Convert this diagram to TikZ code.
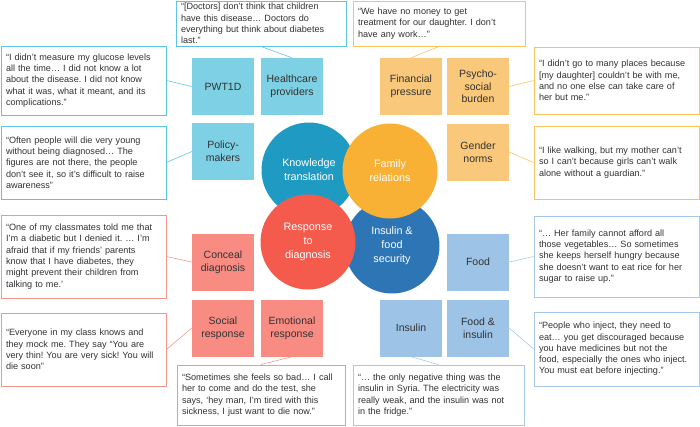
\documentclass[tikz,border=0pt]{standalone}
\usepackage{fontspec}
\setmainfont{Liberation Sans}
\frenchspacing
\definecolor{ktc}{RGB}{31,155,195}
\definecolor{frc}{RGB}{248,177,52}
\definecolor{rdc}{RGB}{244,91,77}
\definecolor{ifc}{RGB}{46,117,182}
\definecolor{tealbox}{RGB}{126,208,228}
\definecolor{orangebox}{RGB}{249,200,122}
\definecolor{salmonbox}{RGB}{248,140,130}
\definecolor{bluebox}{RGB}{157,195,230}
\definecolor{tealline}{RGB}{92,196,222}
\definecolor{orangeline}{RGB}{250,196,92}
\definecolor{salmonline}{RGB}{245,150,140}
\definecolor{blueline}{RGB}{168,200,234}
\definecolor{txt}{RGB}{50,50,50}
\newcommand\qfont{\fontsize{9.1}{11.3}\selectfont}
\newcommand\cfont{\fontsize{10.5}{12.6}\selectfont}
\newcommand\bigfont{\fontsize{10.8}{14}\selectfont}
\begin{document}
\begin{tikzpicture}[x=1pt,y=-1pt,
  quote/.style={draw, line width=0.9pt, fill=white, inner xsep=5pt, inner ysep=0pt, align=left, font=\qfont, text=txt},
  cat/.style={minimum width=62pt, minimum height=57pt, inner sep=0pt, align=center, font=\cfont, text=txt},
  circ/.style={circle, minimum size=95pt, inner sep=0pt, align=center, font=\bigfont, text=white},
  link/.style={line width=0.6pt}]
\useasboundingbox (0,0) rectangle (700,426);

% circles
\node[circ, fill=ktc] (kt) at (309,170) {Knowledge\\translation};
\node[circ, fill=ifc] (if) at (392,246) {Insulin \&\\food\\security};
\node[circ, fill=frc] (fr) at (390,171) {Family\\relations};
\node[circ, fill=rdc] (rd) at (308,242) {Response\\to\\diagnosis};

% category boxes
\node[cat, fill=tealbox] (pwt) at (223,86.5) {PWT1D};
\node[cat, fill=tealbox] (hc) at (292,86.5) {Healthcare\\providers};
\node[cat, fill=tealbox] (pol) at (223,151.5) {Policy-\\makers};
\node[cat, fill=orangebox] (fin) at (411,86.5) {Financial\\pressure};
\node[cat, fill=orangebox] (psy) at (478,86.5) {Psycho-\\social\\burden};
\node[cat, fill=orangebox] (gen) at (478,152) {Gender\\norms};
\node[cat, fill=salmonbox] (con) at (223,262) {Conceal\\diagnosis};
\node[cat, fill=salmonbox] (soc) at (223,328) {Social\\response};
\node[cat, fill=salmonbox] (emo) at (292,328) {Emotional\\response};
\node[cat, fill=bluebox] (food) at (478,262) {Food};
\node[cat, fill=bluebox] (fi) at (478,328) {Food \&\\insulin};
\node[cat, fill=bluebox] (ins) at (411,328) {Insulin};

% quotes
\node[quote, draw=tealline, text width=160pt, minimum height=45pt] (qhc) at (261,23.5)
 {“[Doctors] don’t think that children\\have this disease… Doctors do\\everything but think about diabetes\\last.”};
\node[quote, draw=orangeline, text width=162pt, minimum height=45pt] (qfin) at (439,23.5)
 {“We have no money to get\\treatment for our daughter. I don’t\\have any work…”};
\node[quote, draw=tealline, text width=155pt, minimum height=69pt] (qpwt) at (83.5,80.5)
 {“I didn’t measure my glucose levels\\all the time… I did not know a lot\\about the disease. I did not know\\what it was, what it meant, and its\\complications.”};
\node[quote, draw=orangeline, text width=155pt, minimum height=67pt] (qpsy) at (616.5,80.5)
 {“I didn’t go to many places because\\{[my daughter]} couldn’t be with me,\\and no one else can take care of\\her but me.”};
\node[quote, draw=tealline, text width=155pt, minimum height=73pt] (qpol) at (83.5,162.5)
 {“Often people will die very young\\without being diagnosed… The\\figures are not there, the people\\don’t see it, so it’s difficult to raise\\awareness”};
\node[quote, draw=orangeline, text width=155pt, minimum height=73pt] (qgen) at (616.5,162.5)
 {“I like walking, but my mother can’t\\so I can’t because girls can’t walk\\alone without a guardian.”};
\node[quote, draw=salmonline, text width=155pt, minimum height=83pt] (qcon) at (83.5,256.5)
 {“One of my classmates told me that\\I’m a diabetic but I denied it. … I’m\\afraid that if my friends’ parents\\know that I have diabetes, they\\might prevent their children from\\talking to me.’};
\node[quote, draw=blueline, text width=155pt, minimum height=81pt] (qfood) at (616.5,256.5)
 {“… Her family cannot afford all\\those vegetables… So sometimes\\she keeps herself hungry because\\she doesn’t want to eat rice for her\\sugar to raise up.”};
\node[quote, draw=salmonline, text width=155pt, minimum height=73pt] (qsoc) at (83.5,349.5)
 {“Everyone in my class knows and\\they mock me. They say “You are\\very thin! You are very sick! You will\\die soon”};
\node[quote, draw=blueline, text width=155pt, minimum height=74pt] (qfi) at (616.5,349)
 {“People who inject, they need to\\eat… you get discouraged because\\you have medicines but not the\\food, especially the ones who inject.\\You must eat before injecting.”};
\node[quote, draw=salmonline, text width=158pt, minimum height=60pt] (qemo) at (261,395)
 {“Sometimes she feels so bad… I call\\her to come and do the test, she\\says, ‘hey man, I’m tired with this\\sickness, I just want to die now.”};
\node[quote, draw=blueline, text width=161pt, minimum height=60pt] (qins) at (438.5,395)
 {“… the only negative thing was the\\insulin in Syria. The electricity was\\really weak, and the insulin was not\\in the fridge.”};

% connectors
\draw[link, tealline] (qhc.south) -- (hc.north);
\draw[link, orangeline] (qfin.south) -- (fin.north);
\draw[link, tealline] (qpwt.east) -- (pwt.west);
\draw[link, orangeline] (qpsy.west) -- (psy.east);
\draw[link, tealline] (qpol.east) -- (pol.west);
\draw[link, orangeline] (qgen.west) -- (gen.east);
\draw[link, salmonline] (qcon.east) -- (con.west);
\draw[link, blueline] (qfood.west) -- (food.east);
\draw[link, salmonline] (qsoc.east) -- (soc.west);
\draw[link, blueline] (qfi.west) -- (fi.east);
\draw[link, salmonline] (qemo.north) -- (emo.south);
\draw[link, blueline] (qins.north) -- (ins.south);
\end{tikzpicture}
\end{document}
